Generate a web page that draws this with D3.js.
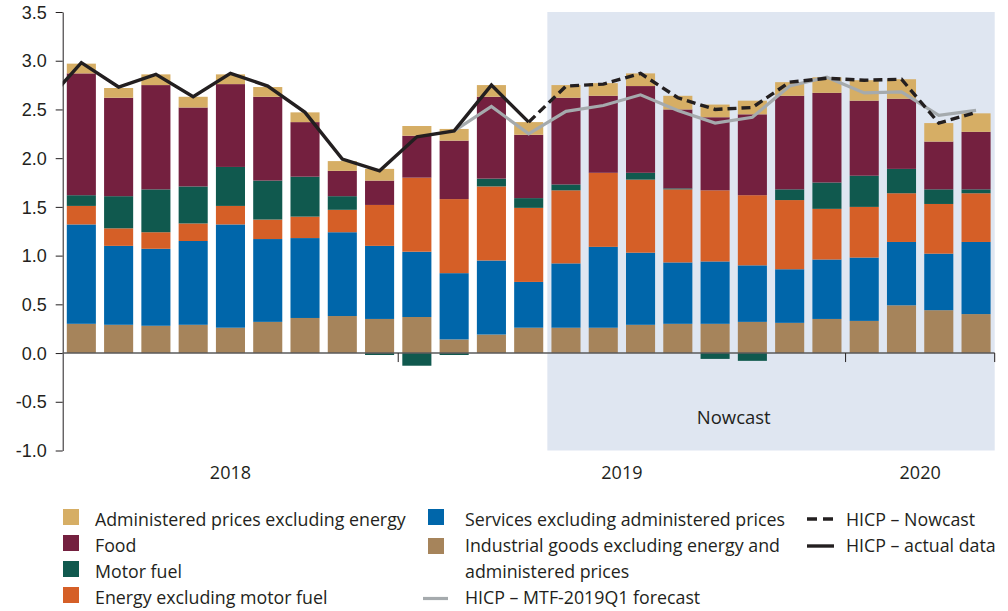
<!DOCTYPE html>
<html>
<head>
<meta charset="utf-8">
<script src="https://cdn.jsdelivr.net/npm/d3@7"></script>
<style type="text/css">
	body { margin:0; background:#fff; }
	svg { font-family: "Open Sans", sans-serif; }
	.axis text { font-size:18px; fill:#231f20; }
	.legend text { font-size:17.8px; fill:#231f20; }
</style>
</head>
<body>
<svg id="chart" width="1008" height="611"></svg>
<script type="text/javascript">
	// months Apr 2018 - Apr 2020
	var months = ["2018-04","2018-05","2018-06","2018-07","2018-08","2018-09","2018-10","2018-11","2018-12",
		"2019-01","2019-02","2019-03","2019-04","2019-05","2019-06","2019-07","2019-08","2019-09","2019-10","2019-11","2019-12",
		"2020-01","2020-02","2020-03","2020-04"];

	// contributions, percentage points
	var industrial = [0.30,0.29,0.28,0.29,0.26,0.32,0.36,0.38,0.35,0.37,0.14,0.19,0.26,0.26,0.26,0.29,0.30,0.30,0.32,0.31,0.35,0.33,0.49,0.44,0.40];
	var services   = [1.02,0.81,0.79,0.86,1.06,0.85,0.82,0.86,0.75,0.67,0.68,0.76,0.47,0.66,0.83,0.74,0.63,0.64,0.58,0.55,0.61,0.65,0.65,0.58,0.74];
	var energy     = [0.19,0.18,0.17,0.18,0.19,0.20,0.22,0.23,0.42,0.76,0.76,0.76,0.76,0.75,0.76,0.75,0.75,0.73,0.72,0.71,0.52,0.52,0.50,0.51,0.50];
	var motorFuel  = [0.11,0.33,0.44,0.38,0.40,0.40,0.41,0.14,-0.02,-0.13,-0.02,0.08,0.10,0.06,0.00,0.07,0.01,-0.06,-0.08,0.11,0.27,0.32,0.25,0.15,0.04];
	var food       = [1.25,1.01,1.07,0.81,0.85,0.86,0.56,0.26,0.25,0.43,0.60,0.84,0.65,0.89,0.79,0.89,0.81,0.75,0.83,0.96,0.92,0.77,0.72,0.49,0.59];
	var administered = [0.10,0.10,0.11,0.11,0.10,0.10,0.10,0.10,0.12,0.10,0.12,0.12,0.13,0.13,0.13,0.13,0.14,0.13,0.14,0.14,0.16,0.21,0.20,0.19,0.19];

	// HICP lines (value for Mar 2018 too, clipped at the axis)
	var actualMonths = ["2018-03"].concat(months.slice(0,13));
	var actual = [2.55,2.98,2.73,2.86,2.63,2.87,2.74,2.47,1.99,1.87,2.22,2.28,2.75,2.37];
	var nowcastMonths = months.slice(12);
	var nowcast = [2.37,2.74,2.76,2.87,2.62,2.50,2.52,2.78,2.82,2.80,2.81,2.36,2.47];
	var mtfMonths = months.slice(10);
	var mtf = [2.28,2.53,2.25,2.48,2.54,2.65,2.49,2.36,2.42,2.74,2.83,2.67,2.68,2.44,2.49];

	var years = ["2018","2019","2020"];
	var yTicks = [-1.0,-0.5,0.0,0.5,1.0,1.5,2.0,2.5,3.0,3.5];
	var nowcastStart = "2019-05";

	var keys = ["industrial","services","energy","motorFuel","food","administered"];
	var colors = {industrial:"#a6845b", services:"#0066aa", energy:"#d55f27", motorFuel:"#10594e", food:"#74203f", administered:"#d6ae65"};
	var series = {industrial:industrial, services:services, energy:energy, motorFuel:motorFuel, food:food, administered:administered};

	var legendCol1 = ["Administered prices excluding energy","Food","Motor fuel","Energy excluding motor fuel"];
	var legendCol1Keys = ["administered","food","motorFuel","energy"];

	var svg = d3.select("#chart"),
	    margin = {top: 12, left: 62.7, right: 13.3},
	    width = 1008 - margin.left - margin.right;

	var x = d3.scaleBand().domain(months).range([margin.left, margin.left + width]).paddingInner(0.22).paddingOuter(0.11);
	var y = d3.scaleLinear().domain([-1, 3.5]).range([450.5, 12]);

	function center(m) {
		var i = months.indexOf(m);
		if (i < 0) return x(months[0]) + x.bandwidth()/2 - x.step();
		return x(m) + x.bandwidth()/2;
	}
	function edge(i) { return margin.left + i * x.step(); }

	svg.append("defs").append("clipPath").attr("id","plotClip")
		.append("rect").attr("x", margin.left).attr("y", 0).attr("width", width).attr("height", 460);

	// nowcast shading
	svg.append("rect")
		.attr("x", edge(months.indexOf(nowcastStart)))
		.attr("y", y(3.5))
		.attr("width", edge(months.length) - edge(months.indexOf(nowcastStart)))
		.attr("height", y(-1) - y(3.5))
		.attr("fill", "#dfe6f1");

	svg.append("text")
		.attr("x", (center("2019-09") + center("2019-10")) / 2)
		.attr("y", y(-0.73))
		.attr("text-anchor", "middle")
		.style("font-size","18.5px").style("fill","#231f20")
		.text("Nowcast");

	// stacked bars
	var table = months.map(function(m, i) {
		var row = {month: m};
		keys.forEach(function(k) { row[k] = series[k][i]; });
		return row;
	});
	var stack = d3.stack().keys(keys).offset(d3.stackOffsetDiverging)(table);

	svg.append("g").selectAll("g")
		.data(stack)
		.enter().append("g")
		.attr("fill", function(d) { return colors[d.key]; })
		.selectAll("rect")
		.data(function(d) { return d; })
		.enter().append("rect")
		.attr("x", function(d) { return x(d.data.month); })
		.attr("y", function(d) { return y(Math.max(d[0], d[1])); })
		.attr("width", x.bandwidth())
		.attr("height", function(d) { return Math.abs(y(d[0]) - y(d[1])); });

	// y axis
	var yAxis = svg.append("g")
		.attr("class", "axis")
		.attr("transform", "translate(" + margin.left + ",0)")
		.call(d3.axisLeft(y).tickValues(yTicks).tickFormat(function(d) { return d.toFixed(1); }).tickSize(7).tickSizeOuter(0).tickPadding(9));
	yAxis.selectAll("line, path").attr("stroke", "#231f20");
	yAxis.selectAll("text").attr("dy", "0.34em");

	// zero line and year ticks
	svg.append("line")
		.attr("x1", margin.left).attr("x2", margin.left + width)
		.attr("y1", y(0)).attr("y2", y(0))
		.attr("stroke", "#5a5a5a").attr("stroke-width", 1.5);

	var yearEdges = [0, 9, 21, 25];
	years.forEach(function(yr, i) {
		var a = edge(yearEdges[i]), b = edge(yearEdges[i+1]);
		svg.append("line")
			.attr("x1", b).attr("x2", b)
			.attr("y1", y(0)).attr("y2", y(0) + 9)
			.attr("stroke", "#231f20").attr("stroke-width", 1);
		svg.append("text")
			.attr("x", (a + b) / 2)
			.attr("y", 479)
			.attr("text-anchor", "middle")
			.style("font-size","18px").style("fill","#231f20")
			.text(yr);
	});

	// lines
	var line = d3.line()
		.x(function(d) { return center(d[0]); })
		.y(function(d) { return y(d[1]); });

	var lines = svg.append("g").attr("clip-path", "url(#plotClip)").attr("fill", "none");

	lines.append("path")
		.datum(d3.zip(mtfMonths, mtf))
		.attr("d", line)
		.attr("stroke", "#a5aaad").attr("stroke-width", 3.2);

	lines.append("path")
		.datum(d3.zip(actualMonths, actual))
		.attr("d", line)
		.attr("stroke", "#231f20").attr("stroke-width", 3.4);

	lines.append("path")
		.datum(d3.zip(nowcastMonths, nowcast))
		.attr("d", line)
		.attr("stroke", "#231f20").attr("stroke-width", 3.4)
		.attr("stroke-dasharray", "9,5");

	// legend
	var legend = svg.append("g").attr("class", "legend");
	var rowY = [520, 546, 572, 598];

	legendCol1.forEach(function(label, i) {
		legend.append("rect").attr("x", 63).attr("y", rowY[i] - 11).attr("width", 16).attr("height", 16)
			.attr("fill", colors[legendCol1Keys[i]]);
		legend.append("text").attr("x", 95).attr("y", rowY[i]).attr("dy", "0.34em").text(label);
	});

	legend.append("rect").attr("x", 428).attr("y", rowY[0] - 11).attr("width", 16).attr("height", 16).attr("fill", colors.services);
	legend.append("text").attr("x", 465).attr("y", rowY[0]).attr("dy", "0.34em").text("Services excluding administered prices");
	legend.append("rect").attr("x", 428).attr("y", rowY[1] - 8).attr("width", 16).attr("height", 16).attr("fill", colors.industrial);
	legend.append("text").attr("x", 465).attr("y", rowY[1]).attr("dy", "0.34em").text("Industrial goods excluding energy and");
	legend.append("text").attr("x", 465).attr("y", rowY[2]).attr("dy", "0.34em").text("administered prices");
	legend.append("line").attr("x1", 423).attr("x2", 448).attr("y1", rowY[3] + 0.5).attr("y2", rowY[3] + 0.5)
		.attr("stroke", "#a5aaad").attr("stroke-width", 3.2);
	legend.append("text").attr("x", 465).attr("y", rowY[3]).attr("dy", "0.34em").text("HICP \u2013 MTF-2019Q1 forecast");

	legend.append("line").attr("x1", 807).attr("x2", 834).attr("y1", rowY[0] - 1).attr("y2", rowY[0] - 1)
		.attr("stroke", "#231f20").attr("stroke-width", 3.4).attr("stroke-dasharray", "10,6");
	legend.append("text").attr("x", 846).attr("y", rowY[0]).attr("dy", "0.34em").text("HICP \u2013 Nowcast");
	legend.append("line").attr("x1", 807).attr("x2", 834).attr("y1", rowY[1]).attr("y2", rowY[1])
		.attr("stroke", "#231f20").attr("stroke-width", 3.4);
	legend.append("text").attr("x", 846).attr("y", rowY[1]).attr("dy", "0.34em").text("HICP \u2013 actual data");
</script>
</body>
</html>
